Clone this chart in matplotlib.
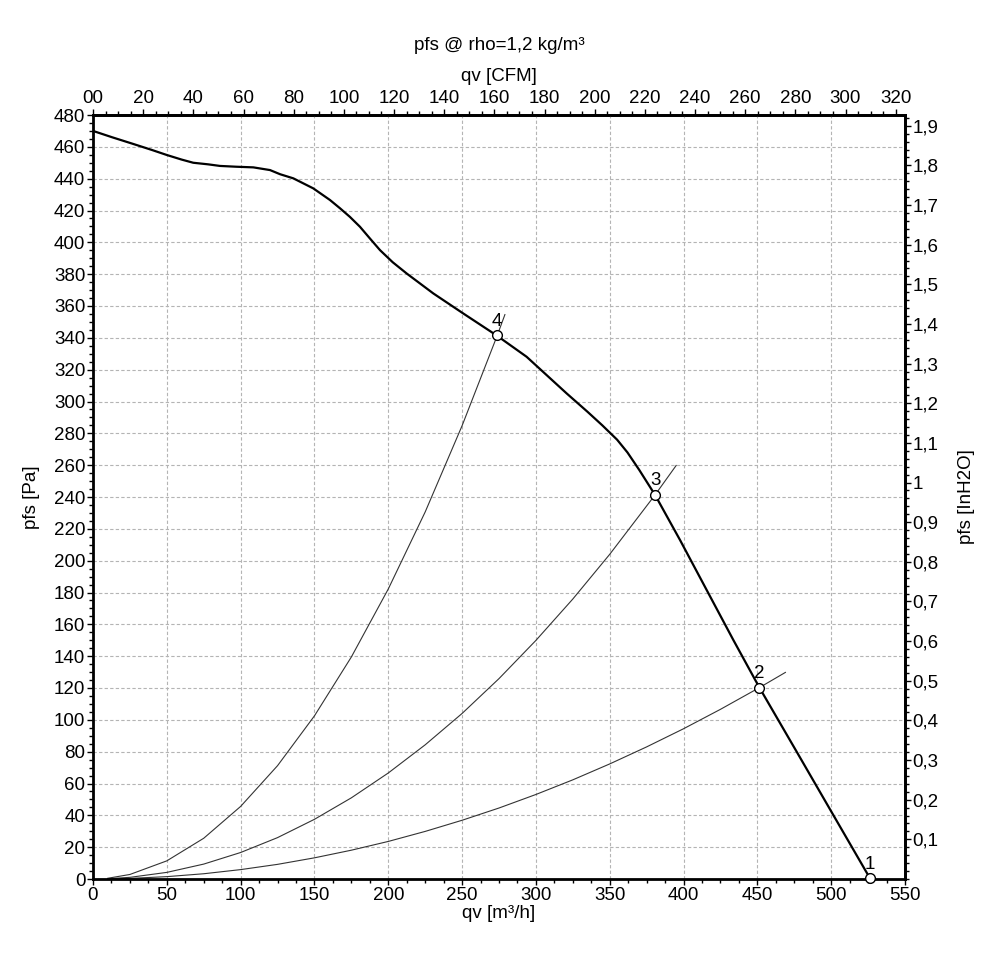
import matplotlib
matplotlib.use("Agg")
import matplotlib.pyplot as plt
from matplotlib.ticker import MultipleLocator, FixedLocator, FuncFormatter

plt.rcParams['font.family'] = ['Liberation Sans', 'DejaVu Sans']

# Fan curve (qv [m3/h], pfs [Pa])
fan_q = [0, 13, 27.3, 40, 49.9, 60, 67.9, 78, 86, 97, 108.6, 119.9, 126.7, 135.7, 149.2,
         160.5, 167.3, 174, 180.8, 187.5, 194.4, 203, 212.5, 230.5, 250.8, 273.4, 293.7,
         320.8, 335, 345, 355, 362, 370, 380.7, 397.6, 415.7, 433.7, 451.3, 476.6, 500, 526.3]
fan_p = [470, 466, 461.8, 458, 454.9, 452, 450, 449, 448, 447.5, 447.1, 445.4, 442.8, 440.2,
         433.9, 426.6, 421.4, 416, 409.8, 402.5, 395.1, 387.5, 380.4, 367.9, 355.3, 341.5,
         328.1, 305.1, 293.5, 285, 276, 268, 257, 241.3, 213, 181.5, 150.2, 120.4, 80, 42.5, 0.4]

# System curves
sys4_q = [10, 25, 50, 75, 100, 125, 150, 175, 200, 225, 250, 273.4, 279]
sys4_p = [0.46, 2.85, 11.4, 25.6, 45.6, 71.2, 102.5, 139.5, 182.2, 230.6, 284.8, 340.5, 354.6]
sys3_q = [10, 25, 50, 75, 100, 125, 150, 175, 200, 225, 250, 275, 300, 325, 350, 380.7, 395]
sys3_p = [0.17, 1.04, 4.16, 9.37, 16.65, 26, 37.5, 51, 66.6, 84.3, 104, 125.9, 149.9, 175.9,
          204, 241.3, 259.8]
sys2_q = [10, 25, 50, 75, 100, 125, 150, 175, 200, 225, 250, 275, 300, 325, 350, 375, 400,
          425, 451.3, 469]
sys2_p = [0.06, 0.37, 1.48, 3.3, 5.9, 9.2, 13.3, 18.1, 23.6, 29.9, 36.9, 44.6, 53.1, 62.3,
          72.3, 83, 94.4, 106.6, 120.2, 129.8]

# Operating points
op_labels = ["1", "2", "3", "4"]
op_q = [526.3, 451.3, 380.7, 273.4]
op_p = [0.4, 120.2, 241.3, 341.5]

x_ticks = list(range(0, 551, 50))
y_ticks = list(range(0, 481, 20))
cfm_ticks = list(range(0, 321, 20))
inh2o_ticks = [0.1, 0.2, 0.3, 0.4, 0.5, 0.6, 0.7, 0.8, 0.9, 1.0, 1.1, 1.2, 1.3, 1.4,
               1.5, 1.6, 1.7, 1.8, 1.9]

M3H_PER_CFM = 1.699
PA_PER_INH2O = 249.089
FS = 13.5

fig = plt.figure(figsize=(9.89, 9.68), dpi=100)
ax = fig.add_axes([93/989, 89/968, 812/989, 764/968])

ax.set_xlim(0, 550)
ax.set_ylim(0, 480)

ax.grid(True, color='#b4b4b4', linestyle=(0, (3, 2)), linewidth=0.8)
ax.set_axisbelow(True)

ax.plot(sys4_q, sys4_p, color='#333333', lw=0.8)
ax.plot(sys3_q, sys3_p, color='#333333', lw=0.8)
ax.plot(sys2_q, sys2_p, color='#333333', lw=0.8)
ax.plot(fan_q, fan_p, color='black', lw=1.6)

ax.plot(op_q, op_p, 'o', ms=7, mfc='white', mec='black', mew=1.0, zorder=5, clip_on=False)
for lab, q, p in zip(op_labels, op_q, op_p):
    ax.annotate(lab, (q, p), xytext=(0, 4), textcoords='offset points',
                ha='center', va='bottom', fontsize=FS, zorder=6)

for s in ax.spines.values():
    s.set_linewidth(2.0)

ax.xaxis.set_major_locator(FixedLocator(x_ticks))
ax.xaxis.set_minor_locator(MultipleLocator(12.5))
ax.yaxis.set_major_locator(FixedLocator(y_ticks))
ax.yaxis.set_minor_locator(MultipleLocator(5))
ax.tick_params(which='major', direction='out', length=4.5, width=1.0, labelsize=FS, pad=1)
ax.tick_params(which='minor', direction='out', length=3, width=1.0)

ax.set_xlabel("qv [m³/h]", fontsize=FS, labelpad=1)
ax.set_ylabel("pfs [Pa]", fontsize=FS, labelpad=10)

# Top axis (CFM)
top = ax.secondary_xaxis('top', functions=(lambda x: x / M3H_PER_CFM, lambda c: c * M3H_PER_CFM))
top.xaxis.set_major_locator(FixedLocator(cfm_ticks))
top.xaxis.set_minor_locator(MultipleLocator(5))
top.xaxis.set_major_formatter(FuncFormatter(lambda v, pos: "00" if abs(v) < 1e-9 else f"{v:.0f}"))
top.tick_params(which='major', direction='out', length=4.5, width=1.0, labelsize=FS, pad=1)
top.tick_params(which='minor', direction='out', length=3, width=1.0)
top.spines['top'].set_linewidth(2.0)
top.set_xlabel("qv [CFM]", fontsize=FS, labelpad=7)

# Right axis (inH2O)
right = ax.secondary_yaxis('right', functions=(lambda p: p / PA_PER_INH2O, lambda i: i * PA_PER_INH2O))
right.yaxis.set_major_locator(FixedLocator(inh2o_ticks))
right.yaxis.set_minor_locator(MultipleLocator(0.02))
def fmt_in(v, pos):
    s = f"{v:.1f}"
    if s.endswith(".0"):
        s = s[:-2]
    return s.replace(".", ",")
right.yaxis.set_major_formatter(FuncFormatter(fmt_in))
right.tick_params(which='major', direction='out', length=4.5, width=1.0, labelsize=FS, pad=1)
right.tick_params(which='minor', direction='out', length=3, width=1.0)
right.spines['right'].set_linewidth(2.0)
right.set_ylabel("pfs [InH2O]", fontsize=FS, labelpad=14)

fig.text(0.5 * (93 + 905) / 989, 1 - 45/968, "pfs @ rho=1,2 kg/m³", ha='center', va='center', fontsize=FS)

fig.savefig("out.png", dpi=100)
